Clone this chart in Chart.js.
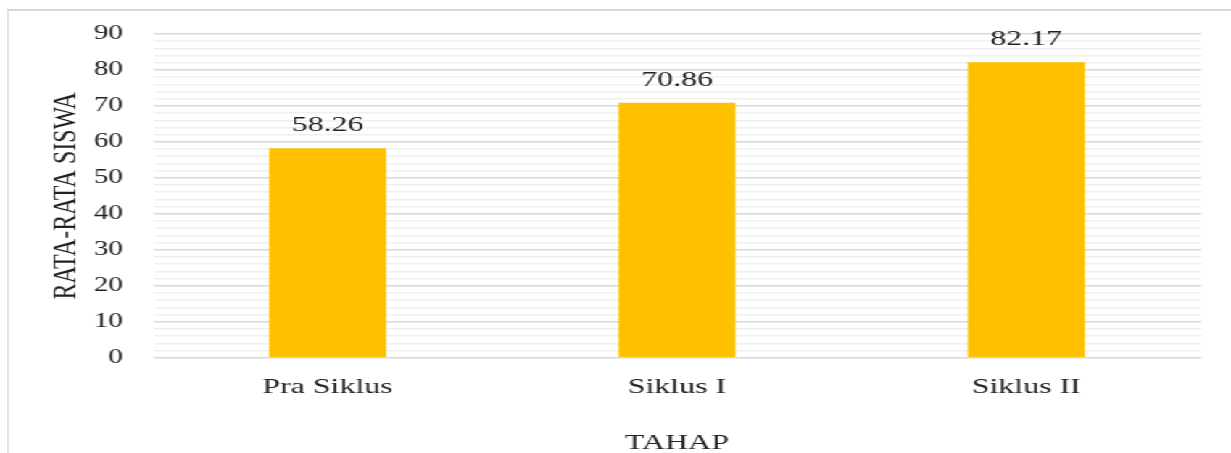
<!DOCTYPE html>
<html>
<head>
<meta charset="utf-8">
<script src="https://cdn.jsdelivr.net/npm/chart.js@4/dist/chart.umd.min.js"></script>
<style>
  html, body { margin: 0; padding: 0; background: #fff; overflow: hidden; }
  /* the reference is stretched sideways, so draw narrow and widen with CSS */
  #stage {
    position: relative; width: 849px; height: 458px;
    transform: scaleX(1.44994); transform-origin: 0 0;
  }
  #frame {
    position: absolute; left: 5px; top: 9px; width: 900px; height: 500px;
    border-left: 1px solid #d9d9d9; border-top: 2px solid #d9d9d9;
  }
  #wrap { position: absolute; left: 0; top: 0; width: 849px; height: 458px; }
</style>
</head>
<body>
<div id="stage">
  <div id="frame"></div>
  <div id="wrap"><canvas id="chart"></canvas></div>
</div>
<script>
/* ---------- data ---------- */
const categories = ["Pra Siklus", "Siklus I", "Siklus II"];
const scores     = [58.26, 70.86, 82.17];
const yMin = 0, yMax = 90, yLabelStep = 10, yGridStep = 2;

const SERIF = "'Liberation Serif', 'Times New Roman', serif";
const TEXT  = "#222222";

/* value labels above each bar */
const barLabels = {
  id: "barLabels",
  afterDatasetsDraw (chart) {
    const ctx  = chart.ctx;
    const meta = chart.getDatasetMeta(0);
    ctx.save();
    ctx.font = "22px " + SERIF;
    ctx.fillStyle = TEXT;
    ctx.textAlign = "center";
    ctx.textBaseline = "middle";
    meta.data.forEach((bar, i) => {
      ctx.fillText(scores[i].toFixed(2), bar.x, bar.y - 23);
    });
    ctx.restore();
  }
};

new Chart(document.getElementById("chart"), {
  type: "bar",
  data: {
    labels: categories,
    datasets: [{
      data: scores,
      backgroundColor: "#FFC000",
      borderWidth: 0,
      barPercentage: 0.335,
      categoryPercentage: 1
    }]
  },
  options: {
    responsive: true, maintainAspectRatio: false, animation: false,
    layout: { padding: { top: 34, left: 47.5, right: 20.7, bottom: 0 } },
    plugins: { legend: { display: false }, tooltip: { enabled: false } },
    scales: {
      x: {
        grid: { display: false, drawTicks: false },
        border: { display: false },
        ticks: { color: TEXT, font: { family: SERIF, size: 22 }, padding: 16 },
        title: {
          display: true, text: "TAHAP", color: TEXT,
          font: { family: SERIF, size: 22 },
          padding: { top: 13.5, bottom: 2 }
        }
      },
      y: {
        min: yMin, max: yMax,
        border: { display: false },
        grid: {
          drawTicks: false,
          color: c => (c.tick && c.tick.value % yLabelStep === 0) ? "#d9d9d9" : "#f0f0f0",
          lineWidth: 1.6
        },
        ticks: {
          stepSize: yGridStep, autoSkip: false, padding: 20.7,
          color: TEXT, font: { family: SERIF, size: 20 },
          callback: v => (v % yLabelStep === 0 ? String(v) : "")
        },
        title: {
          display: true, text: "RATA-RATA SISWA", color: TEXT,
          font: { family: SERIF, size: 24 },
          padding: { top: -16.1, bottom: -16.1 }
        }
      }
    }
  },
  plugins: [barLabels]
});
</script>
</body>
</html>
